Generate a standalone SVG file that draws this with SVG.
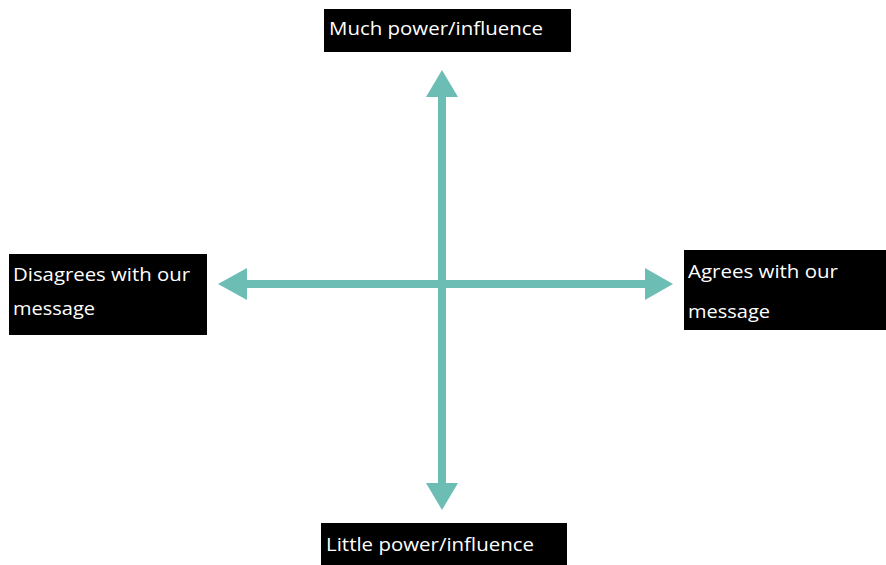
<svg xmlns="http://www.w3.org/2000/svg" width="886" height="565" viewBox="0 0 886 565">
  <style>
    .box { fill: #000000; }
    .label { fill: #ffffff; font-family: "Open Sans", "Noto Sans", "Liberation Sans", sans-serif; font-size: 19px; }
    .axis { stroke: #6cbdb4; stroke-width: 8; fill: none; }
    .tip { fill: #6cbdb4; }
  </style>
  <rect width="886" height="565" fill="#ffffff"/>

  <!-- two crossing axes with arrowheads at each end -->
  <g id="connectors">
    <line class="axis" x1="442" y1="96" x2="442" y2="484"/>
    <line class="axis" x1="245" y1="284" x2="646" y2="284"/>
    <path class="tip" d="M442,70 L426,97 L458,97 Z"/>
    <path class="tip" d="M442,510 L426,483 L458,483 Z"/>
    <path class="tip" d="M218,284 L247,268 L247,300 Z"/>
    <path class="tip" d="M673,284 L645,268 L645,300 Z"/>
  </g>

  <g id="top">
    <rect class="box" x="324" y="9" width="247" height="43"/>
    <text class="label" x="329" y="35" textLength="214" lengthAdjust="spacingAndGlyphs">Much power/influence</text>
  </g>

  <g id="left">
    <rect class="box" x="9" y="254" width="198" height="81"/>
    <text class="label" x="13" y="281" textLength="177" lengthAdjust="spacingAndGlyphs">Disagrees with our</text>
    <text class="label" x="13" y="315" textLength="82" lengthAdjust="spacingAndGlyphs">message</text>
  </g>

  <g id="right">
    <rect class="box" x="684" y="250" width="202" height="80"/>
    <text class="label" x="688" y="278" textLength="150" lengthAdjust="spacingAndGlyphs">Agrees with our</text>
    <text class="label" x="688" y="318" textLength="82" lengthAdjust="spacingAndGlyphs">message</text>
  </g>

  <g id="bottom">
    <rect class="box" x="321" y="523" width="246" height="42"/>
    <text class="label" x="326" y="551" textLength="208" lengthAdjust="spacingAndGlyphs">Little power/influence</text>
  </g>
</svg>
